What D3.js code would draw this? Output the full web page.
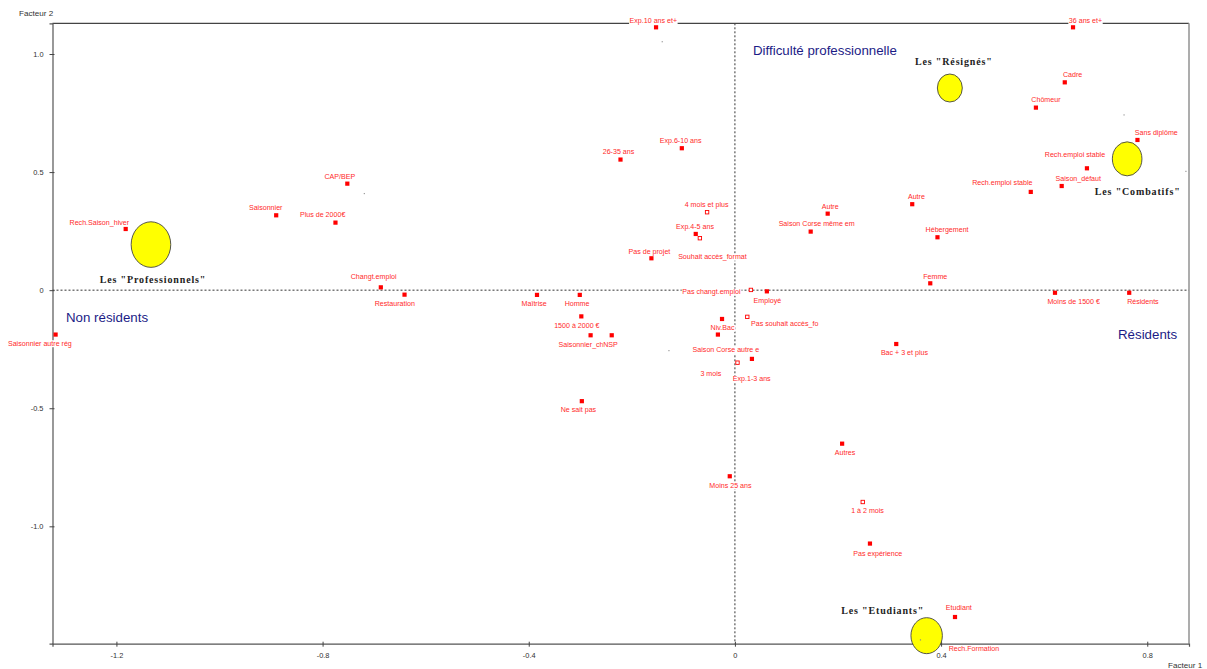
<!DOCTYPE html>
<html>
<head>
<meta charset="utf-8">
<script src="https://cdn.jsdelivr.net/npm/d3@7"></script>
<style>
  html, body { margin: 0; padding: 0; background: #fff; }
  svg { display: block; }
</style>
</head>
<body>
<svg id="chart" width="1207" height="669"></svg>
<script>
// Modalités projected on the first factorial plane
const categories = [
  "Exp.10 ans et+", "36 ans et+", "Cadre", "Chômeur", "Sans diplôme",
  "Rech.emploi stable", "Saison_défaut", "Rech.emploi stable", "Autre", "Autre",
  "Saison Corse même em", "Hébergement", "Femme", "Moins de 1500 €", "Résidents",
  "Bac + 3 et plus", "Autres", "1 à 2 mois", "Pas expérience", "Etudiant",
  "Rech.Formation", "4 mois et plus", "Exp.4-5 ans", "Souhait accès_format", "Pas de projet",
  "Exp.6-10 ans", "26-35 ans", "Pas changt.emploi", "Employé", "Pas souhait accès_fo",
  "Niv.Bac", "Saison Corse autre e", "Exp.1-3 ans", "3 mois", "Maîtrise",
  "Homme", "1500 à 2000 €", "Saisonnier_ch", "NSP", "Ne sait pas",
  "Moins 25 ans", "Restauration", "Changt.emploi", "Saisonnier", "Plus de 2000€",
  "CAP/BEP", "Rech.Saison_hiver", "Saisonnier autre rég"
];
const factor1 = [
  -0.153, 0.656, 0.640, 0.584, 0.781,
  0.683, 0.634, 0.574, 0.344, 0.180,
  0.147, 0.393, 0.379, 0.621, 0.765,
  0.313, 0.208, 0.248, 0.262, 0.427,
  0.394, -0.054, -0.076, -0.068, -0.162,
  -0.103, -0.222, 0.031, 0.062, 0.024,
  -0.025, -0.033, 0.033, 0.005, -0.384,
  -0.301, -0.298, -0.280, -0.239, -0.297,
  -0.010, -0.641, -0.687, -0.890, -0.775,
  -0.752, -1.182, -1.318
];
const factor2 = [
  1.113, 1.113, 0.880, 0.773, 0.636,
  0.516, 0.441, 0.416, 0.364, 0.324,
  0.248, 0.224, 0.029, -0.011, -0.011,
  -0.228, -0.650, -0.897, -1.073, -1.384,
  -1.486, 0.330, 0.238, 0.220, 0.135,
  0.601, 0.553, 0.001, -0.005, -0.113,
  -0.122, -0.188, -0.291, -0.307, -0.020,
  -0.020, -0.111, -0.191, -0.191, -0.470,
  -0.788, -0.019, 0.012, 0.317, 0.286,
  0.451, 0.259, -0.188
];
// Illustrative (supplementary) modalities, drawn as open squares
const illustrative = ["1 à 2 mois", "4 mois et plus", "Souhait accès_format",
  "Pas changt.emploi", "Pas souhait accès_fo", "3 mois"];

// Extra projected points shown as small grey dots
const extraF1 = [-0.719, -0.141, 0.755, 0.875, -0.128, 0.360];
const extraF2 = [0.409, 1.052, 0.742, 0.503, -0.256, -1.481];

// Typology groups
const groupNames = ['Les "Professionnels"', 'Les "Résignés"', 'Les "Combatifs"', 'Les "Etudiants"'];
const groupF1 = [-1.133, 0.417, 0.761, 0.372];
const groupF2 = [0.193, 0.856, 0.556, -1.463];
const groupSpreadF1 = [0.0384, 0.0242, 0.0287, 0.0305];
const groupSpreadF2 = [0.0965, 0.0593, 0.0720, 0.0762];

// Axis ticks
const xTicks = [-1.2, -0.8, -0.4, 0, 0.4, 0.8];
const yTicks = [1.0, 0.5, 0, -0.5, -1.0];

// Interpretation of the axes
const axisNotes = ["Difficulté professionnelle", "Non résidents", "Résidents"];

// ---- layout ----
const labelOffsets = [
  [-2.7,-7.3],[12.5,-7.3],[7.8,-7.6],[10,-7.7],[18.8,-7.7],
  [-12,-14],[16.6,-7.7],[-28.4,-9],[4.2,-7.6],[2.5,-7.4],
  [6,-7.7],[9.6,-7.6],[5,-7.3],[18.7,8.6],[13.7,8.6],
  [8.2,8.7],[2.9,8.3],[4.8,8.7],[7.8,9.6],[3.8,-9.3],
  [36,7],[-0.5,-7.3],[-0.7,-7.3],[12.6,18.4],[-2,-7.3],
  [-1.2,-8],[-2,-7.7],[-39.5,1.7],[0.5,8.7],[37.4,7],
  [0.5,8.7],[8,15.3],[-0.2,20],[-26.6,10.6],[-2.8,8.7],
  [-2.7,8.7],[-4.5,8.7],[-9.5,9],[-1.2,9],[-3.4,8.7],
  [0.7,8.7],[-9.7,8.6],[-7.2,-11],[-10.5,-7.6],[-12.8,-7.7],
  [-7.5,-7.7],[-26.4,-7],[-15.7,8.6]
];
const groupLabelOffsets = [[2, 35], [4, -27], [10.5, 32.3], [-44, -25.3]];
const notePositions = [[753, 50], [66, 317.5], [1118, 334]];

const plot = { left: 52.5, right: 1189, top: 23.3, bottom: 643.7 };

const svg = d3.select("#chart");

const x = d3.scaleLinear().domain([-1.324, 0.881]).range([plot.left, plot.right]);
const y = d3.scaleLinear().domain([1.130, -1.497]).range([plot.top, plot.bottom]);

const tickFmt = d => d === 0 ? "0" : d.toFixed(1);

// Origin reference lines
svg.append("line")
  .attr("x1", plot.left).attr("x2", plot.right)
  .attr("y1", y(0)).attr("y2", y(0))
  .attr("stroke", "#333").attr("stroke-width", 1).attr("stroke-dasharray", "2,2");
svg.append("line")
  .attr("x1", x(0)).attr("x2", x(0))
  .attr("y1", plot.top).attr("y2", plot.bottom)
  .attr("stroke", "#333").attr("stroke-width", 1).attr("stroke-dasharray", "2,2");

// Frame
svg.append("line").attr("x1", plot.left).attr("x2", plot.right)
  .attr("y1", plot.top).attr("y2", plot.top).attr("stroke", "#444").attr("stroke-width", 1.2);
svg.append("line").attr("x1", plot.right).attr("x2", plot.right)
  .attr("y1", plot.top).attr("y2", plot.bottom).attr("stroke", "#999").attr("stroke-width", 1.6);

// Axes
const xAxis = svg.append("g")
  .attr("transform", `translate(0,${plot.bottom})`)
  .call(d3.axisBottom(x).tickValues(xTicks).tickFormat(tickFmt).tickSize(3).tickPadding(6));
const yAxis = svg.append("g")
  .attr("transform", `translate(${plot.left},0)`)
  .call(d3.axisLeft(y).tickValues(yTicks).tickFormat(tickFmt).tickSize(3).tickPadding(6));

[xAxis, yAxis].forEach(g => {
  g.select(".domain").attr("stroke", "#555").attr("stroke-width", 1.2);
  g.selectAll(".tick line").attr("stroke", "#444");
  g.selectAll(".tick text")
    .attr("fill", "#333")
    .style("font-family", "'Liberation Sans', Arial, sans-serif")
    .style("font-size", "7.4px");
});
xAxis.selectAll(".tick line").attr("y1", -2).attr("y2", 3);
yAxis.selectAll(".tick line").attr("x1", 2).attr("x2", -3);

// Axis titles
svg.append("text").attr("x", 19).attr("y", 16.3)
  .style("font-family", "'Liberation Sans', Arial, sans-serif").style("font-size", "8.1px")
  .attr("fill", "#333").text("Facteur 2");
svg.append("text").attr("x", 1168).attr("y", 668)
  .style("font-family", "'Liberation Sans', Arial, sans-serif").style("font-size", "8.1px")
  .attr("fill", "#333").text("Facteur 1");

// Axis interpretation notes
axisNotes.forEach((t, i) => {
  svg.append("text")
    .attr("x", notePositions[i][0]).attr("y", notePositions[i][1])
    .attr("dy", "0.36em")
    .style("font-family", "'Liberation Sans', Arial, sans-serif")
    .style("font-size", "13.3px")
    .attr("fill", "#1c1c86")
    .text(t);
});

const points = categories.map((c, i) => ({
  name: c, f1: factor1[i], f2: factor2[i],
  open: illustrative.includes(c), off: labelOffsets[i]
}));

// Labels with white backing
const labelG = svg.append("g");
points.forEach(p => {
  const g = labelG.append("g");
  const t = g.append("text")
    .attr("x", x(p.f1) + p.off[0])
    .attr("y", y(p.f2) + p.off[1])
    .attr("dy", "0.36em")
    .attr("text-anchor", "middle")
    .style("font-family", "'Liberation Sans', Arial, sans-serif")
    .style("font-size", "7.1px")
    .attr("fill", "#ff2a2a")
    .text(p.name);
  const bb = t.node().getBBox();
  g.insert("rect", "text")
    .attr("x", bb.x - 0.5).attr("y", bb.y + 0.5)
    .attr("width", bb.width + 1).attr("height", bb.height - 1)
    .attr("fill", "#fff");
});

// Extra grey dots
svg.append("g").selectAll("rect")
  .data(extraF1.map((v, i) => [v, extraF2[i]]))
  .join("rect")
  .attr("x", d => x(d[0]) - 0.6).attr("y", d => y(d[1]) - 0.6)
  .attr("width", 1.2).attr("height", 1.2)
  .attr("fill", "#999");

// Markers
svg.append("g").selectAll("rect")
  .data(points)
  .join("rect")
  .attr("x", d => x(d.f1) - (d.open ? 1.7 : 2.1))
  .attr("y", d => y(d.f2) - (d.open ? 1.7 : 2.1))
  .attr("width", d => d.open ? 3.4 : 4.2)
  .attr("height", d => d.open ? 3.4 : 4.2)
  .attr("fill", d => d.open ? "#fff" : "#ff0000")
  .attr("stroke", d => d.open ? "#ff0000" : "none")
  .attr("stroke-width", 0.9);

// Typology groups
groupNames.forEach((n, i) => {
  const cx = x(groupF1[i]), cy = y(groupF2[i]);
  svg.append("ellipse")
    .attr("cx", cx).attr("cy", cy)
    .attr("rx", x(groupF1[i] + groupSpreadF1[i]) - cx)
    .attr("ry", cy - y(groupF2[i] + groupSpreadF2[i]))
    .attr("fill", "#ffff00")
    .attr("stroke", "#444")
    .attr("stroke-width", 0.9);
  svg.append("text")
    .attr("x", cx + groupLabelOffsets[i][0])
    .attr("y", cy + groupLabelOffsets[i][1])
    .attr("dy", "0.35em")
    .attr("text-anchor", "middle")
    .style("font-family", "'Liberation Serif', 'Times New Roman', serif")
    .style("font-weight", "bold")
    .style("font-size", "10px")
    .style("letter-spacing", "0.85px")
    .attr("fill", "#222")
    .text(n);
});
// centre dot of the last group, visible on top of its ellipse
svg.append("rect")
  .attr("x", x(extraF1[5]) - 0.6).attr("y", y(extraF2[5]) - 0.6)
  .attr("width", 1.2).attr("height", 1.2).attr("fill", "#888");
</script>
</body>
</html>
